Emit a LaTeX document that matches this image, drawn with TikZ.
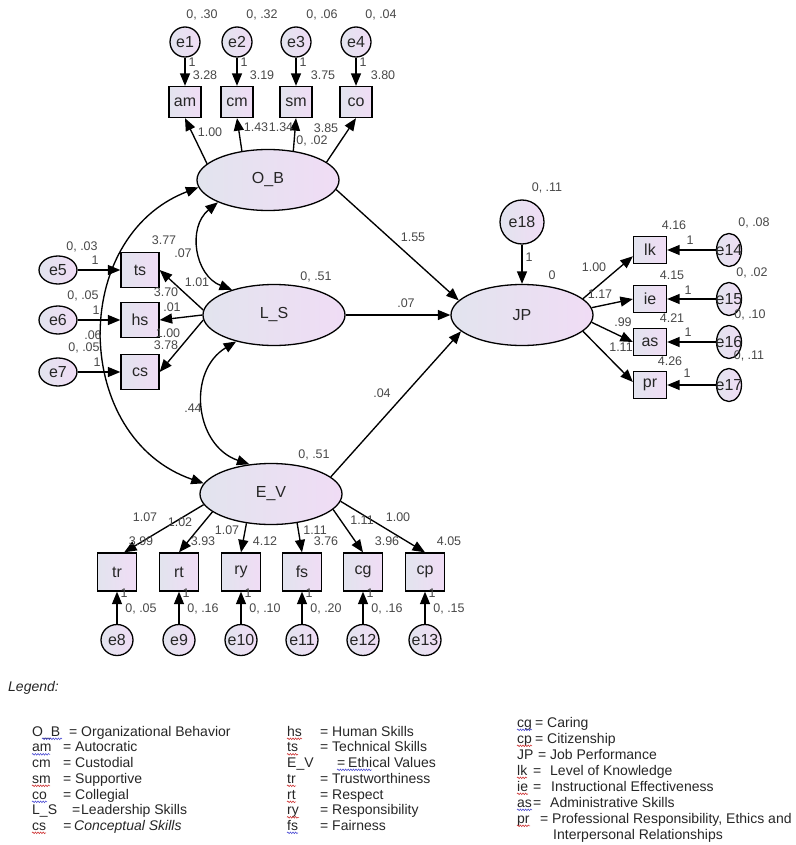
\documentclass[tikz,border=0pt]{standalone}
\usepackage{fontspec}
\setmainfont{Liberation Sans}
\usetikzlibrary{shapes.geometric,arrows.meta,decorations.pathmorphing}

\definecolor{shadeL}{RGB}{226,228,238}
\definecolor{shadeR}{RGB}{240,220,245}
\definecolor{numgray}{RGB}{72,72,72}
\definecolor{ink}{RGB}{38,38,38}
\definecolor{spellred}{RGB}{205,45,45}
\definecolor{spellblue}{RGB}{70,70,210}

\tikzset{
  varfill/.style={left color=shadeL, right color=shadeR, draw=black, line width=1.3pt},
  latent/.style={varfill, ellipse, minimum width=142pt, minimum height=61pt, inner sep=0pt,
    font=\fontsize{16}{18}\selectfont, text=ink},
  obsbox/.style={varfill, rectangle, inner sep=0pt, font=\fontsize{16}{18}\selectfont, text=ink},
  topbox/.style={obsbox, minimum width=32pt, minimum height=31pt},
  leftbox/.style={obsbox, minimum width=38pt, minimum height=35pt},
  botbox/.style={obsbox, minimum width=39pt, minimum height=38pt},
  rightbox/.style={obsbox, minimum width=33pt, minimum height=27pt},
  errtext/.style={font=\fontsize{16}{18}\selectfont, text=ink, inner sep=0pt},
  errsh/.style={varfill, ellipse, inner sep=0pt},
  est/.style={font=\fontsize{12.5}{14}\selectfont, text=numgray, inner sep=0pt},
  reg/.style={-{Triangle[length=12.5pt,width=10pt]}, line width=1.35pt},
  covar/.style={{Triangle[length=12.5pt,width=10pt]}-{Triangle[length=12.5pt,width=10pt]}, line width=1.35pt},
  legtext/.style={font=\fontsize{14}{16}\selectfont, text=ink, inner sep=0pt, anchor=base west},
  spell/.style={decorate, decoration={snake, amplitude=0.8pt, segment length=2.6pt}, line width=0.55pt},
}

\begin{document}
\begin{tikzpicture}[x=1pt,y=1pt]
\useasboundingbox (0,0) rectangle (795,-845);

% ---------- latent variables ----------
\node[latent] (OB) at (268,-180) {O\_B};
\node[latent] (LS) at (274,-315) {L\_S};
\node[latent] (EV) at (271,-494) {E\_V};
\node[latent] (JP) at (522,-315) {JP};

% ---------- observed indicators ----------
\node[topbox] (am) at (185,-102) {am};
\node[topbox] (cm) at (237,-102) {cm};
\node[topbox] (sm) at (296,-102) {sm};
\node[topbox] (co) at (356,-102) {co};

\node[leftbox] (ts) at (140,-270) {ts};
\node[leftbox] (hs) at (140,-320) {hs};
\node[leftbox] (cs) at (140,-372) {cs};

\node[botbox] (tr) at (117,-572) {tr};
\node[botbox] (rt) at (179,-572) {rt};
\node[botbox] (ry) at (241,-572) {ry};
\node[botbox] (fs) at (302,-572) {fs};
\node[botbox] (cg) at (363,-572) {cg};
\node[botbox] (cp) at (425,-572) {cp};

\node[rightbox] (lk) at (650,-250) {lk};
\node[rightbox] (ie) at (650,-299) {ie};
\node[rightbox] (as) at (650,-342) {as};
\node[rightbox] (pr) at (650,-385) {pr};

% ---------- error terms ----------
\foreach \n/\x in {1/185,2/237,3/296,4/356}
  \node[errsh, minimum width=30pt, minimum height=30pt, label={[errtext]center:e\n}] (e\n) at (\x,-42) {};
\foreach \n/\y in {5/-270,6/-320,7/-372}
  \node[errsh, minimum width=38pt, minimum height=28pt, label={[errtext]center:e\n}] (e\n) at (58,\y) {};
\foreach \n/\x in {8/117,9/179,10/241,11/302,12/363,13/425}
  \node[errsh, minimum width=32pt, minimum height=31pt, label={[errtext]center:e\n}] (e\n) at (\x,-640) {};
\foreach \n/\y in {14/-250,15/-299,16/-342,17/-385}
  \node[errsh, minimum width=25pt, minimum height=33pt, label={[errtext]center:e\n}] (e\n) at (729,\y) {};
\node[errsh, minimum width=44pt, minimum height=44pt, label={[errtext]center:e18}] (e18) at (522,-222) {};

% ---------- error paths ----------
\draw[reg] (e1) -- (am);
\draw[reg] (e2) -- (cm);
\draw[reg] (e3) -- (sm);
\draw[reg] (e4) -- (co);
\draw[reg] (e5) -- (ts);
\draw[reg] (e6) -- (hs);
\draw[reg] (e7) -- (cs);
\draw[reg] (e8) -- (tr);
\draw[reg] (e9) -- (rt);
\draw[reg] (e10) -- (ry);
\draw[reg] (e11) -- (fs);
\draw[reg] (e12) -- (cg);
\draw[reg] (e13) -- (cp);
\draw[reg] (e14) -- (lk);
\draw[reg] (e15) -- (ie);
\draw[reg] (e16) -- (as);
\draw[reg] (e17) -- (pr);
\draw[reg] (e18) -- (JP);

% ---------- loadings ----------
\draw[reg] (OB.165) -- (am.south);
\draw[reg] (OB.132) -- (cm.south);
\draw[reg] (OB.49) -- (sm.south);
\draw[reg] (OB.17) -- (co.south);

\draw[reg] (LS.176) -- (ts.east);
\draw[reg] (LS.180) -- (hs.east);
\draw[reg] (LS.184) -- (cs.east);

\draw[reg] (EV.189) -- (tr.70);
\draw[reg] (EV.197) -- (rt.north);
\draw[reg] (EV.230) -- (ry.north);
\draw[reg] (EV.312) -- (fs.north);
\draw[reg] (EV.346) -- (cg.north);
\draw[reg] (EV.354) -- (cp.north);

\draw[reg] (JP.15) -- (lk.200);
\draw[reg] (JP.6) -- (ie.west);
\draw[reg] (JP.354) -- (as.west);
\draw[reg] (JP.345) -- (pr.170);

% ---------- structural paths ----------
\draw[reg] (OB.352) -- (JP.167);
\draw[reg] (LS) -- (JP);
\draw[reg] (EV.16) -- (JP.195);

% ---------- covariances ----------
\draw[covar] (OB.204) to[bend right=60, looseness=1.15] (LS.149);
\draw[covar] (LS.215) to[bend right=65, looseness=1.2] (EV.126);
\draw[covar] (OB.186) to[bend right=70, looseness=1.2] (EV.171);

% ---------- estimates ----------
\foreach \x/\y/\t [count=\k] in {
  202/-15/{0, .30}, 262/-15/{0, .32}, 322/-15/{0, .06}, 381/-15/{0, .04},
  192/-62/1, 244/-62/1, 303/-62/1, 363/-62/1,
  205/-75/3.28, 262/-75/3.19, 323/-75/3.75, 383/-75/3.80,
  210/-132/1.00, 256/-127/1.43, 281/-127/1.34, 326/-128/3.85, 312/-141/{0, .02},
  82/-247/{0, .03}, 95/-260/1, 83/-296/{0, .05}, 96/-310/1, 93/-335/.06,
  84/-348/{0, .05}, 97/-362/1,
  164/-240/3.77, 183/-253/.07, 197/-282/1.01, 166/-292/3.70, 172/-307/.01,
  168/-333/1.00, 166/-345/3.78, 193/-408/.44,
  413/-237/1.55, 406/-303/.07, 382/-393/.04, 316/-277/{0, .51}, 314/-455/{0, .51},
  547/-188/{0, .11}, 529/-257/1, 552/-275/0,
  674/-225/4.16, 690/-240/1, 754/-223/{0, .08},
  672/-275/4.15, 688/-290/1, 752/-273/{0, .02},
  672/-318/4.21, 688/-332/1, 750/-315/{0, .10},
  670/-361/4.26, 687/-373/1, 749/-356/{0, .11},
  594/-267/1.00, 600/-294/1.17, 623/-322/.99, 621/-347/1.11,
  145/-517/1.07, 180/-522/1.02, 227/-530/1.07, 315/-530/1.11, 362/-520/1.11, 398/-517/1.00,
  141/-541/3.99, 203/-541/3.93, 265/-541/4.12, 326/-541/3.76, 387/-541/3.96, 449/-541/4.05,
  124/-593/1, 186/-593/1, 248/-593/1, 309/-593/1, 370/-593/1, 432/-593/1,
  141/-609/{0, .05}, 203/-609/{0, .16}, 265/-609/{0, .10}, 326/-609/{0, .20},
  387/-609/{0, .16}, 449/-609/{0, .15}}
  \node[est] (est\k) at (\x,\y) {\t};

% ---------- legend ----------
\node[legtext, font=\fontsize{14}{16}\selectfont\itshape] (legtitle) at (8,-691) {Legend:};

\foreach \r/\y/\ab/\xe/\xd/\d in {
  1/-736/{O\_B}/69/81/{Organizational Behavior},
  2/-751.5/am/63/75/Autocratic,
  3/-767/cm/63/75/Custodial,
  4/-783/sm/63/75/Supportive,
  5/-799/co/63/75/Collegial,
  6/-814.5/{L\_S}/72/81/{Leadership Skills}}
{
  \node[legtext] (la\r) at (32,\y) {\ab};
  \node[legtext] (lq\r) at (\xe,\y) {=};
  \node[legtext] (ld\r) at (\xd,\y) {\d};
}
\node[legtext] (la7) at (32,-830) {cs};
\node[legtext, font=\fontsize{14}{16}\selectfont\itshape] (lq7) at (63,-830) {=};
\node[legtext, font=\fontsize{14}{16}\selectfont\itshape] (ld7) at (74,-830) {Conceptual Skills};

\foreach \r/\y/\ab/\xe/\xd/\d in {
  1/-736/hs/320/332/{Human Skills},
  2/-751.5/ts/320/332/{Technical Skills},
  3/-767/{E\_V}/337/348/{Ethical Values},
  4/-783/tr/320/332/Trustworthiness,
  5/-799/rt/320/332/Respect,
  6/-814.5/ry/320/332/Responsibility,
  7/-830/fs/320/332/Fairness}
{
  \node[legtext] (ma\r) at (287,\y) {\ab};
  \node[legtext] (mq\r) at (\xe,\y) {=};
  \node[legtext] (md\r) at (\xd,\y) {\d};
}

\foreach \r/\y/\ab/\xe/\xd/\d in {
  1/-727/cg/535/547/Caring,
  2/-743/cp/535/547/Citizenship,
  3/-759/JP/538/550/{Job Performance},
  4/-775/lk/533/550/{Level of Knowledge},
  5/-791/ie/533/551/{Instructional Effectiveness},
  6/-807/as/533/550/{Administrative Skills},
  7/-823/pr/540/552/{Professional Responsibility, Ethics and}}
{
  \node[legtext] (ra\r) at (517,\y) {\ab};
  \node[legtext] (rq\r) at (\xe,\y) {=};
  \node[legtext] (rd\r) at (\xd,\y) {\d};
}
\node[legtext] (rd8) at (553,-839) {Interpersonal Relationships};

% spell-check underlines
\foreach \c/\xa/\xb/\y in {
  spellblue/42/62/-736, spellblue/32/50/-751.5, spellred/32/50/-783,
  spellblue/32/47/-799, spellred/32/46/-830,
  spellred/287/302/-736, spellred/287/298/-751.5, spellblue/337/372/-767,
  spellred/287/296/-783, spellred/287/296/-799, spellred/287/299/-814.5,
  spellblue/287/298/-830,
  spellblue/517/532/-727, spellred/517/532/-743, spellred/517/527/-775,
  spellred/517/528/-791, spellblue/517/532/-807, spellred/517/530/-823}
  \draw[spell, \c] (\xa,\y-2.8) -- (\xb,\y-2.8);

\end{tikzpicture}
\end{document}
